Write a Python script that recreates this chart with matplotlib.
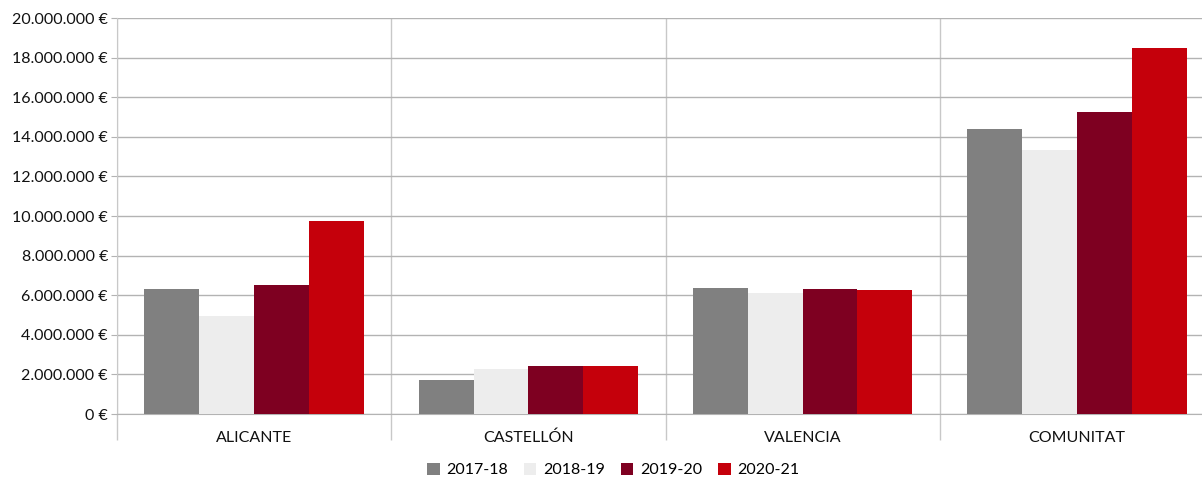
import numpy as np
import matplotlib
matplotlib.use("Agg")
import matplotlib.pyplot as plt
from matplotlib.ticker import FuncFormatter

regions = ["ALICANTE", "CASTELLÓN", "VALENCIA", "COMUNITAT"]
years = ["2017-18", "2018-19", "2019-20", "2020-21"]
v_2017 = [6310000, 1720000, 6360000, 14390000]
v_2018 = [4950000, 2270000, 6110000, 13330000]
v_2019 = [6520000, 2420000, 6310000, 15250000]
v_2020 = [9750000, 2420000, 6260000, 18480000]
series = [v_2017, v_2018, v_2019, v_2020]
colors = ["#808080", "#ededed", "#7e0021", "#c5000b"]

plt.rcParams["font.family"] = ["Lato", "DejaVu Sans"]

fig = plt.figure(figsize=(12.02, 4.8), dpi=100)
# the plot area runs past the right edge of the picture, like the original
ax = fig.add_axes([117 / 1202, 1 - 414 / 480, (1214 - 117) / 1202, 396 / 480])

x = np.arange(len(regions)) + 0.5
w = 0.2
for i, (vals, c) in enumerate(zip(series, colors)):
    ax.bar(x + (i - 1.5) * w, vals, w, color=c, label=years[i], zorder=3)

ax.set_xlim(0, 4)
ax.set_ylim(0, 20000000)
ax.set_yticks(np.arange(0, 20000001, 2000000))

def euro(v, pos):
    return f"{int(v):,}".replace(",", ".") + " €"

ax.yaxis.set_major_formatter(FuncFormatter(euro))
ax.set_xticks(x)
ax.set_xticklabels(regions)
ax.set_xticks(np.arange(0, 5), minor=True)

ax.grid(axis="y", color="#b3b3b3", linewidth=1, zorder=0)
ax.grid(axis="x", which="minor", color="#c8c8c8", linewidth=1, zorder=0)
ax.tick_params(axis="x", which="major", length=0, pad=12, labelsize=11.5, colors="#111111")
ax.tick_params(axis="x", which="minor", length=19, color="#c8c8c8", width=1)
ax.tick_params(axis="y", length=4.5, pad=2, labelsize=11.5, colors="#b3b3b3", labelcolor="#111111")

for s in ["top", "right"]:
    ax.spines[s].set_visible(False)
ax.spines["left"].set_color("#c8c8c8")
ax.spines["bottom"].set_color("#b3b3b3")

fig.legend(loc="center", bbox_to_anchor=(0.51, 1 - 470 / 480), ncol=4, frameon=False,
           handlelength=0.8, handleheight=0.8, handletextpad=0.4, columnspacing=1.0,
           fontsize=11.5)

fig.savefig("out.png", dpi=100)
